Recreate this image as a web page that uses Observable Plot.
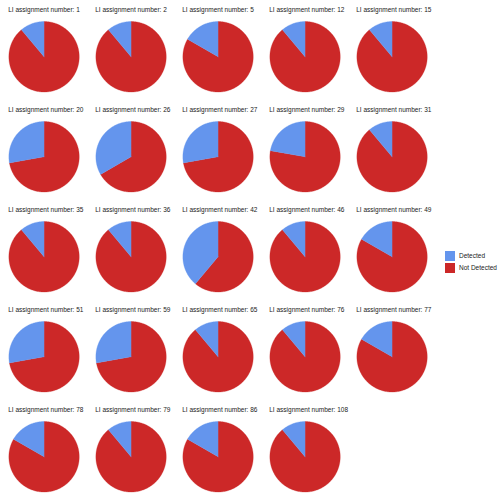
<!DOCTYPE html>
<html><head><meta charset="utf-8">
<script src="https://cdn.jsdelivr.net/npm/d3@7"></script>
<script src="https://cdn.jsdelivr.net/npm/@observablehq/plot@0.6"></script>
<style>
html,body{margin:0;padding:0;background:#fff;}
#wrap{position:relative;width:500px;height:498px;overflow:hidden;font-family:Arial,"Liberation Sans",sans-serif;}
#legend{position:absolute;left:444.5px;top:250.7px;font-size:6.5px;color:#222;}
.row{position:relative;height:12.6px;}
.box{position:absolute;left:0;top:0;width:10px;height:10px;}
.lab{position:absolute;left:14.5px;top:0;line-height:10px;white-space:nowrap;}
</style></head><body>
<div id="wrap"><div id="chart"></div><div id="legend"></div></div>
<script>
// Data
const assignments = [1, 2, 5, 12, 15, 20, 26, 27, 29, 31, 35, 36, 42, 46, 49, 51, 59, 65, 76, 77, 78, 79, 86, 108];
const detected    = [2, 2, 3, 2, 2, 5, 6, 5, 4, 2, 2, 2, 7, 2, 3, 5, 5, 2, 2, 3, 3, 2, 3, 2];
const notDetected = [16, 16, 15, 16, 16, 13, 12, 13, 14, 16, 16, 16, 11, 16, 15, 13, 13, 16, 16, 15, 15, 16, 15, 16];
const seriesNames = ["Detected", "Not Detected"];
const seriesColors = ["#6495ed", "#cc2828"];
const titlePrefix = "LI assignment number: ";

// Layout
const NCOL = 5;
const W = 500, H = 498;
const cellW = 87.5, cellH = 100.4;
const R = 35.4;           // pie radius in px
const cx = 42.8, cy = 55.5; // pie center inside cell (px)
const titleAbove = 47.5;  // title center above pie center (px)

// Build slice polygons (geometry from the values via d3.pie)
const pie = d3.pie().sort(null).value(d => d.value);
const slices = [];
const titles = [];
assignments.forEach((a, i) => {
  const col = i % NCOL, row = Math.floor(i / NCOL);
  titles.push({col, row, text: titlePrefix + a});
  const parts = [
    {name: seriesNames[1], value: notDetected[i]},
    {name: seriesNames[0], value: detected[i]}
  ];
  pie(parts).forEach(arc => {
    const key = a + "-" + arc.data.name;
    const pts = [{x: 0, y: 0}];
    const n = Math.max(2, Math.ceil((arc.endAngle - arc.startAngle) / (Math.PI / 180)));
    for (let k = 0; k <= n; k++) {
      const t = arc.startAngle + (arc.endAngle - arc.startAngle) * k / n;
      pts.push({x: Math.sin(t), y: Math.cos(t)});
    }
    pts.push({x: 0, y: 0});
    pts.forEach(p => slices.push({...p, col, row, key, name: arc.data.name}));
  });
});

const chart = Plot.plot({
  width: W,
  height: H,
  marginTop: 0, marginRight: 0, marginBottom: 0, marginLeft: 0,
  facet: {marginTop: 0, marginRight: 0, marginBottom: 0, marginLeft: 0},
  fx: {axis: null, padding: 0, domain: d3.range(NCOL), range: [0, cellW * NCOL]},
  fy: {axis: null, padding: 0, domain: d3.range(5), range: [0, cellH * 5]},
  x: {axis: null, domain: [-cx / R, (cellW - cx) / R]},
  y: {axis: null, domain: [-(cellH - cy) / R, cy / R]},
  color: {domain: seriesNames, range: seriesColors},
  style: {background: "transparent", overflow: "visible"},
  marks: [
    Plot.line(slices, {
      x: "x", y: "y", z: "key", fx: "col", fy: "row",
      fill: "name", stroke: "name", strokeWidth: 0.3, curve: "linear-closed"
    }),
    Plot.text(titles, {
      x: () => -1, y: () => titleAbove / R, fx: "col", fy: "row",
      text: "text", textAnchor: "start", dx: -0.6,
      fontSize: 6.5, fill: "#222",
      fontFamily: "Arial, 'Liberation Sans', sans-serif"
    })
  ]
});
document.getElementById("chart").appendChild(chart);

// Legend
const legend = document.getElementById("legend");
seriesNames.forEach((name, i) => {
  const row = document.createElement("div");
  row.className = "row";
  const box = document.createElement("div");
  box.className = "box";
  box.style.background = seriesColors[i];
  const lab = document.createElement("div");
  lab.className = "lab";
  lab.textContent = name;
  row.appendChild(box); row.appendChild(lab);
  legend.appendChild(row);
});
</script>
</body></html>
